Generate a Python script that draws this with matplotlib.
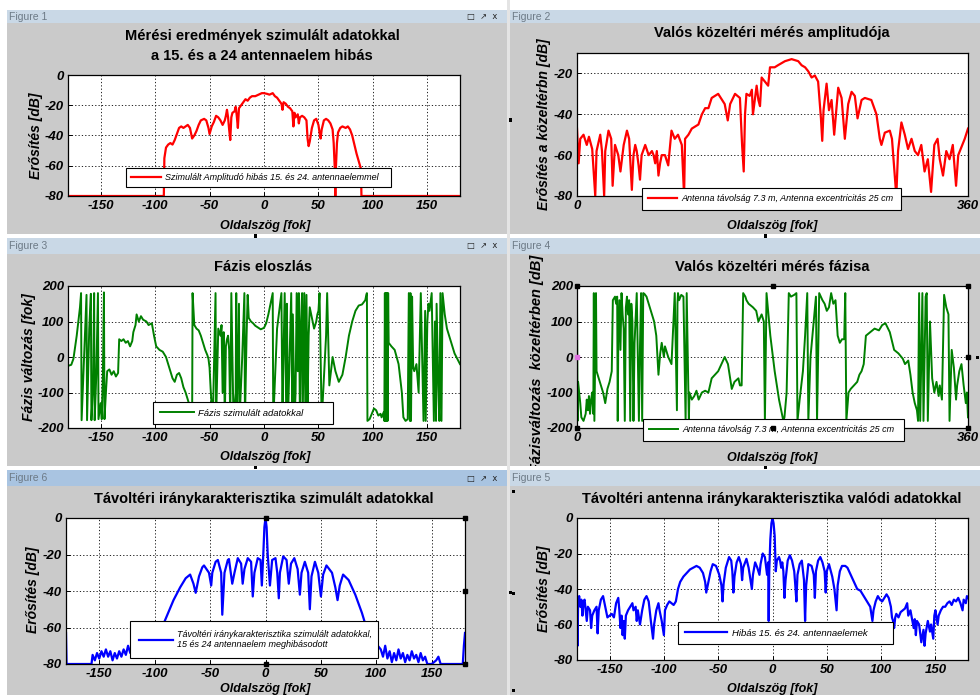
import matplotlib
matplotlib.use('Agg')
import matplotlib.pyplot as plt
from matplotlib.patches import Rectangle
from matplotlib.transforms import Bbox, TransformedBbox

plt.rcParams['axes.unicode_minus'] = False

# ---------------- DATA (angle [deg], value) ----------------
f1_pts = [(-180,-80),(-92,-80),(-91.5,-55),(-90,-48),(-88,-46),(-86,-45),(-84,-46),(-82,-43),(-80,-39),(-78,-35),(-76,-34),(-74,-35),(-72,-34),(-70,-33),(-68,-35),(-66,-42),(-64,-40),(-62,-37),(-60,-33),(-58,-30),(-55,-29),(-53,-30),(-51,-35),(-50,-39),(-48,-34),(-46,-31),(-44,-27),(-42,-28),(-40,-30),(-38,-33),(-36,-30),(-35,-27),(-34,-23),(-33,-28),(-32,-36),(-31,-43),(-30,-28),(-29,-25),(-27,-24),(-26,-21),(-25,-27),(-24,-35),(-23,-22),(-21,-20),(-19,-18),(-17,-16),(-15,-17),(-13,-15),(-11,-14),(-8,-14),(-5,-13),(-2,-12),(0,-12),(3,-12.5),(5,-13),(8,-12),(10,-14),(12,-15),(14,-17),(16,-19),(17,-23),(18,-18),(20,-19),(22,-21),(24,-22),(26,-24),(27,-34),(28,-25),(29,-28),(31,-26),(32,-32),(33,-28),(35,-27),(37,-28),(39,-30),(40,-42),(41,-47),(42,-44),(44,-35),(46,-30),(48,-29),(50,-33),(51,-38),(52,-42),(53,-36),(55,-30),(57,-29),(59,-30),(61,-32),(63,-36),(64,-45),(65,-62),(65.5,-80),(66,-62),(67,-45),(68,-38),(70,-35),(72,-34),(75,-35),(77,-34),(79,-36),(81,-40),(83,-46),(85,-52),(87,-57),(89,-62),(89.5,-80),(180,-80)]

f2_pts = [(0,-47),(1.5,-64),(3,-52),(6,-50),(9,-55),(11,-51),(14,-57),(16.2,-75),(16.8,-80),(18,-58),(21.4,-50),(23,-58),(25,-80),(26,-58),(29,-48),(31.5,-52),(32.8,-75),(35,-55),(38,-60),(40,-68),(43,-55),(46,-48),(48,-52),(50.5,-77),(52,-60),(53.6,-55),(55,-58),(56.7,-65),(58,-72),(59.5,-60),(62.8,-55),(66,-60),(69,-58),(70.5,-60),(72,-64),(73.5,-58),(75,-70),(76.5,-64),(78,-60),(81,-60),(84,-65),(87,-48),(90,-52),(93,-50),(96.5,-55),(98.6,-80),(99.5,-52),(102.6,-50),(105.7,-47),(111.8,-45),(115,-40),(118,-37),(121,-37),(124,-32),(130,-30),(136,-35),(138.8,-43),(141,-35),(145.5,-30),(150,-32),(152,-55),(153.5,-68),(154.7,-40),(156,-30),(159,-31),(161,-28),(162,-40),(165.4,-26),(167,-33),(168.5,-36),(170,-22),(173,-24),(176,-26),(177.7,-17),(182,-17),(185,-16),(191.5,-14),(197.6,-13),(203.7,-14),(206.8,-16),(210,-17),(213,-19),(216,-22),(219,-21),(222,-24),(224.6,-42),(225.8,-53),(227,-38),(229.8,-25),(232,-38),(234.4,-33),(236.8,-50),(240.5,-27),(243.6,-32),(246.6,-52),(249.7,-35),(252.8,-29),(255.8,-31),(258.3,-42),(262,-33),(265,-32),(271,-33),(275.7,-40),(278.8,-52),(280.3,-55),(283.4,-49),(288,-48),(290,-52),(292.6,-70),(294,-80),(295.6,-58),(298.7,-44),(301.8,-50),(304.8,-57),(308,-52),(311,-58),(314,-60),(317,-55),(320,-68),(323,-62),(326,-78),(329,-55),(332,-52),(334,-62),(337,-70),(340,-58),(343,-62),(346,-55),(349,-75),(351,-60),(354,-56),(357,-52),(360,-47)]

f3_pts = [(-180,-25),(-177,-22),(-175,-5),(-172,60),(-169,140),(-168,180),(-167.5,-178),(-166,-60),(-164.5,60),(-163,175),(-162.5,-178),(-160.5,80),(-159,178),(-158.5,-178),(-157,-80),(-156,180),(-155.5,-178),(-154,-50),(-152.5,180),(-152,-175),(-150,-130),(-149,-175),(-148,-60),(-147,182),(-146.5,-175),(-145,-90),(-144,-40),(-142,-35),(-140,-50),(-138,-40),(-136,-55),(-134,-45),(-133,50),(-131,45),(-129,50),(-127,40),(-125,45),(-123,30),(-121,45),(-120,70),(-118,90),(-117,120),(-116,110),(-115,100),(-113,115),(-111,105),(-108,100),(-106,90),(-103,95),(-101,60),(-99,30),(-96,20),(-93,15),(-90,0),(-88,-20),(-86,-40),(-84,-60),(-82,-70),(-80,-50),(-78,-45),(-76,-60),(-74,-85),(-72,-100),(-70,-120),(-68,-140),(-66.5,-160),(-66,-180),(-65.6,180),(-64,90),(-62,80),(-60,75),(-58,60),(-56,40),(-54,20),(-52,5),(-51,-5),(-50,-30),(-49,-90),(-48,-140),(-47,-180),(-44.5,180),(-44,-180),(-42,80),(-40,60),(-39,90),(-38,-100),(-37,70),(-36,-180),(-35,30),(-34,50),(-33,60),(-32,20),(-31,-180),(-30,180),(-28,-180),(-26,-100),(-25.5,180),(-25,-180),(-23,150),(-22.5,-180),(-20,0),(-18,180),(-17.5,-180),(-17,-100),(-16,60),(-15,175),(-14,110),(-12,100),(-10,95),(-8,88),(-5,82),(-3,78),(-1.5,80),(0,82),(2,95),(4,120),(6,150),(8,180),(8.5,-180),(12,80),(16,180),(17,-180),(17.5,-60),(19,180),(20.5,-180),(21,150),(22,-180),(24,60),(25,180),(26,-180),(26.5,120),(28,-180),(29,-100),(30,180),(31,-40),(32,180),(33,-180),(34,100),(35,180),(35.5,-180),(36,-60),(37,180),(38,-160),(39,175),(40,-150),(41,60),(42,140),(44,110),(46,80),(48,100),(49,120),(50,130),(51,180),(53,-180),(55,-60),(57,60),(58,180),(60,-80),(63,0),(65.6,-40),(68.7,-70),(72,-50),(75,0),(78,60),(81,100),(84,130),(87,145),(90,148),(93,160),(94,175),(94.5,180),(95,-180),(97,-175),(99,-160),(101,-145),(103,-150),(105,-165),(107,-160),(108,-170),(110,-155),(110.5,-180),(111,180),(111.5,-180),(112,180),(112.5,-180),(113,180),(113.5,-180),(114,180),(114.5,40),(117,30),(120,20),(123.6,-20),(126.6,-100),(128,-170),(130,-180),(132,-175),(133,180),(134,-180),(134.5,180),(135,-180),(136,170),(137,-30),(138,-40),(140,-20),(142,-100),(144,180),(146.5,-180),(148,130),(148.5,-180),(150,100),(151,150),(152,130),(154,180),(156,-180),(157,100),(158,-180),(158.5,150),(160,-80),(161,-180),(162,180),(163,-180),(164,180),(166,120),(168,80),(171,50),(175,10),(180,-20)]

f4_pts = [(0,180),(0.5,-180),(1,-70),(2,-100),(3,-130),(4,-170),(6,-180),(8,-160),(9,-120),(10,-150),(11,-110),(12,-160),(13,-120),(14,-100),(15,-160),(15.5,180),(16,-180),(17.5,180),(18,-40),(20,-60),(22,-80),(24,-100),(26,-130),(28,-90),(30,-70),(32,-40),(33,160),(35,170),(36,150),(37,170),(37.5,-180),(38,40),(39,160),(40,20),(41,180),(42,120),(43,80),(44,-180),(45,140),(46,170),(47,120),(48,160),(49,-180),(50,150),(51,100),(52,-180),(53,40),(55,180),(57,-180),(58,30),(59,180),(60,-180),(61,180),(62,178),(64,170),(66,150),(69,120),(71,100),(73,60),(75,-50),(76.6,10),(78,40),(80,0),(81,30),(84,0),(87,-20),(90,180),(92,-150),(92.5,150),(93,180),(94,160),(96,175),(98,170),(100,-180),(101,180),(103,-180),(103.5,-100),(105.7,-120),(108,-110),(110,-95),(112,-120),(115,-100),(118,-95),(121,-100),(124,-60),(127,-50),(130,-40),(133,-20),(136,0),(139,-20),(142.5,-90),(145,-70),(148.6,-60),(150,-80),(151.6,-80),(153,180),(155,170),(156,160),(158,150),(162,140),(165,130),(167,100),(170,120),(172,100),(173,-180),(174.5,180),(178,60),(182,-40),(186,-120),(190,-180),(191,-170),(193,-100),(195,180),(197,170),(200,175),(202,180),(203,-180),(205,-120),(208,-40),(210,60),(212,180),(213,-180),(215,0),(218,100),(220,170),(221,-180),(223,180),(226,160),(228,150),(230,130),(232,140),(234,180),(236,150),(238,160),(240,60),(242,40),(244,50),(246,50),(247,180),(248,-180),(250,-100),(252,-90),(255,-80),(258,-70),(260,-50),(262,-40),(264,-20),(266,60),(270,70),(274,80),(278,75),(281,90),(284,95),(288,70),(292,20),(296,10),(300,-5),(302,-20),(305,-10),(307,-50),(309,-100),(311,-130),(313,-150),(314,-180),(315,180),(316,-180),(318,180),(319,-180),(321,170),(322,180),(323,-180),(325,100),(327,-60),(329,-100),(331,-70),(333,-110),(334,-80),(336,-120),(338,175),(340,140),(342,120),(343,-180),(345,20),(347,-30),(349,-120),(350,-80),(352,-40),(354,-20),(356,-80),(358,-130),(359,-100),(360,-170)]

f5_pts = [(-180,-63),(-179.5,-80),(-179,-80),(-157,-80),(-156,-75),(-154,-78),(-152,-74),(-150,-77),(-148,-73),(-146,-76),(-144,-72),(-142,-76),(-140,-73),(-138,-78),(-136,-74),(-134,-77),(-132,-73),(-130,-76),(-128,-72),(-126,-75),(-124,-70),(-122,-74),(-120,-71),(-118,-73),(-110,-70),(-100,-65),(-92,-58),(-83,-45),(-77,-38),(-72,-33),(-68,-31),(-65,-36),(-63,-41),(-60,-32),(-57,-27),(-55.5,-26),(-51,-30),(-49,-37),(-48,-30),(-45,-24),(-43,-23),(-40,-30),(-39,-53),(-37,-30),(-34,-23),(-33,-22.5),(-30,-36),(-28,-30),(-25,-22),(-22,-25),(-20.6,-36),(-19,-28),(-16,-22),(-13,-24),(-11.5,-43),(-10,-30),(-7,-22),(-4.5,-23),(-3.3,-37),(-2,-20),(-1,-5),(0,0),(1,-5),(2,-20),(4,-37),(6,-23),(9,-22),(10.6,-30),(12,-44),(13,-30),(16,-21),(19,-23),(21,-36),(23,-25),(26,-22),(29,-28),(31,-42),(32.5,-30),(35.5,-24),(38.5,-30),(40,-50),(41.5,-32),(44.6,-24),(47.6,-30),(50,-43),(52,-31),(55,-26),(60,-30),(63,-38),(65,-45),(67,-37),(70,-31),(75,-34),(81,-42),(87,-52),(91,-60),(96,-66),(104,-72),(106,-76),(108,-70),(110,-77),(112,-73),(114,-79),(116,-74),(118,-78),(120,-72),(122,-77),(124,-74),(126,-79),(128,-75),(130,-78),(132,-73),(134,-77),(136,-75),(138,-79),(140,-74),(142,-78),(144,-76),(146,-80),(150,-80),(154,-78),(156,-76),(158,-80),(160,-80),(165,-80),(178,-80),(179,-70),(180,-63)]

f6_pts = [(-180,-45),(-179.5,-72),(-179,-48),(-178,-44),(-177,-50),(-176,-46),(-175,-55),(-174,-47),(-173,-46),(-171,-58),(-170,-50),(-168,-52),(-167,-62),(-166,-55),(-164,-52),(-162,-50),(-161,-65),(-160,-52),(-158,-46),(-156,-44),(-154,-50),(-152,-56),(-150,-55),(-148,-54),(-146,-56),(-144,-48),(-142,-45),(-141,-52),(-140,-62),(-139,-55),(-138,-66),(-137,-58),(-136,-68),(-135,-55),(-133,-52),(-131,-50),(-129,-48),(-128,-52),(-126,-50),(-125,-58),(-124,-52),(-122,-60),(-120,-52),(-118,-46),(-116,-44),(-114,-47),(-112,-58),(-110,-68),(-109,-60),(-107,-52),(-105,-48),(-104,-52),(-102,-58),(-100,-66),(-99,-52),(-97,-49),(-95,-47),(-93,-48),(-91,-49),(-89,-47),(-87,-40),(-85,-36),(-82,-33),(-79,-31),(-76,-29),(-73,-28),(-70,-27),(-67,-28),(-64,-31),(-62,-36),(-61,-42),(-59,-36),(-57,-30),(-55,-26),(-52,-27),(-49,-32),(-47,-38),(-46,-47),(-45,-37),(-43,-28),(-40,-22),(-38,-24),(-37,-30),(-36,-42),(-35,-33),(-33,-25),(-31,-22),(-29,-26),(-28,-35),(-27,-28),(-24,-23),(-22,-28),(-20,-36),(-19,-40),(-18,-32),(-16,-25),(-14,-28),(-12,-32),(-11,-26),(-9,-20),(-7,-22),(-5,-32),(-4,-25),(-3.5,-58),(-3,-30),(-2,-12),(-1,-3),(0,0),(1,-3),(2,-10),(2.5,-20),(3,-30),(4,-24),(6,-22),(7,-24),(8,-28),(9,-25),(10,-30),(11,-45),(12,-35),(14,-24),(16,-21),(18,-24),(20,-30),(21,-38),(22,-47),(23,-32),(25,-26),(27,-24),(29,-35),(30,-58),(31,-38),(33,-26),(36,-27),(38,-32),(39,-45),(40,-30),(42,-24),(44,-22),(46,-25),(48,-30),(49,-42),(50,-30),(52,-26),(55,-33),(57,-40),(59,-52),(60,-38),(62,-30),(64,-27),(67,-27),(69,-28),(72,-32),(75,-36),(78,-40),(81,-41),(84,-44),(88,-48),(90,-50),(92,-58),(93,-52),(95,-47),(97,-44),(99,-46),(101,-47),(103,-45),(105,-43),(107,-45),(109,-50),(110,-56),(111,-58),(112,-62),(113,-56),(114,-54),(116,-56),(118,-53),(120,-52),(122,-51),(124,-48),(125,-55),(127,-52),(130,-62),(131,-57),(132,-66),(133,-58),(135,-60),(137,-70),(139,-63),(140,-72),(141,-65),(143,-58),(145,-64),(146,-60),(148,-68),(149,-55),(150,-52),(152,-60),(153,-55),(155,-52),(157,-50),(159,-50),(161,-48),(163,-47),(165,-49),(167,-46),(169,-47),(171,-45),(173,-48),(175,-52),(176,-46),(178,-48),(179,-44),(180,-45)]

deg_ticks = [-150, -100, -50, 0, 50, 100, 150]
db_ticks = [-80, -60, -40, -20, 0]
db_ticks2 = [-80, -60, -40, -20]
ph_ticks = [-200, -100, 0, 100, 200]
full_ticks = [0, 360]


def xs(pts):
    return [p[0] for p in pts]


def ys(pts):
    return [p[1] for p in pts]


# ---------------- FIGURE ----------------
W, H = 980, 695
fig = plt.figure(figsize=(9.8, 6.95), dpi=100)
fig.patch.set_facecolor('white')
FONT = ['Liberation Sans', 'DejaVu Sans']
GRAY = '#cacaca'
BAR = '#c9d8e6'
BAR_DARK = '#a9c4e1'


def rect(x0, y0, x1, y1, color, z=0):
    r = Rectangle((x0 / W, 1 - y1 / H), (x1 - x0) / W, (y1 - y0) / H,
                  transform=fig.transFigure, facecolor=color, edgecolor='none', zorder=z)
    fig.add_artist(r)


def ftext(x, y, s, **kw):
    kw.setdefault('family', FONT)
    return fig.text(x / W, 1 - y / H, s, **kw)


rect(7, 10, 507, 234, GRAY)
rect(510, 10, 980, 234, GRAY)
rect(7, 238, 507, 466, GRAY)
rect(510, 238, 980, 466, GRAY)
rect(7, 470, 507, 695, GRAY)
rect(510, 470, 980, 695, GRAY)
rect(507, 0, 510, 695, '#e4e4e4')

bars = [(7, 10, 507, 23, BAR, 'Figure 1', True), (510, 10, 980, 23, BAR, 'Figure 2', False),
        (7, 238, 507, 254, BAR, 'Figure 3', True), (510, 238, 980, 254, BAR, 'Figure 4', False),
        (7, 470, 507, 486, BAR_DARK, 'Figure 6', True), (510, 470, 980, 486, BAR, 'Figure 5', False)]
for x0, y0, x1, y1, c, lab, btn in bars:
    rect(x0, y0, x1, y1, c, z=10)
    ftext(x0 + 2, (y0 + y1) / 2, lab, fontsize=7.5, color='#6d7a86', va='center', ha='left', zorder=11)
    if btn:
        ftext(x1 - 10, (y0 + y1) / 2, '\u25a1  \u2197  x', fontsize=6, color='#222222',
              va='center', ha='right', zorder=11, family=['DejaVu Sans'])


def make_axes(l, r, t, b):
    ax = fig.add_axes([l / W, 1 - b / H, (r - l) / W, (b - t) / H])
    ax.set_facecolor('white')
    for s in ax.spines.values():
        s.set_linewidth(0.9)
        s.set_color('black')
    ax.tick_params(direction='in', length=3, width=0.7, pad=3, top=False, right=False)
    return ax


def style_ticks(ax, size=9.5):
    for lab in ax.get_xticklabels() + ax.get_yticklabels():
        lab.set_fontweight('bold')
        lab.set_fontstyle('italic')
        lab.set_fontsize(size)
        lab.set_family(FONT)


def grid(ax, xgrid=True):
    ax.yaxis.grid(True, color='black', linestyle=(0, (1.5, 2.5)), linewidth=0.6)
    if xgrid:
        ax.xaxis.grid(True, color='black', linestyle=(0, (1.5, 2.5)), linewidth=0.6)
    ax.set_axisbelow(True)


def legend(ax, x0, y0, x1, fs=6.5, borderpad=0.7, handlelength=3.2):
    leg = ax.legend(loc='upper left', bbox_to_anchor=(x0 / W, 1 - y0 / H - 0.05, (x1 - x0) / W, 0.05),
                    bbox_transform=fig.transFigure, borderaxespad=0, fancybox=False, mode='expand',
                    framealpha=1, edgecolor='black', borderpad=borderpad, handlelength=handlelength,
                    handletextpad=0.5,
                    prop={'family': FONT, 'style': 'italic', 'size': fs})
    leg.get_frame().set_linewidth(0.8)
    leg.set_zorder(20)
    return leg


def ylab(x, y, s, fs=10, **kw):
    return ftext(x, y, s, rotation=90, fontsize=fs, fontweight='bold', fontstyle='italic',
                 ha='center', va='center', **kw)


def xlab(x, y, s, fs=9):
    return ftext(x, y, s, fontsize=fs, fontweight='bold', fontstyle='italic', ha='center', va='center')


def title(x, y, s, fs=10.5):
    return ftext(x, y, s, fontsize=fs, fontweight='bold', ha='center', va='center', linespacing=1.5)


RED = '#ff0000'
GREEN = '#008000'
BLUE = '#0000ff'

# ---- Figure 1 ----
ax1 = make_axes(68, 460, 75, 196)
ax1.plot(xs(f1_pts), ys(f1_pts), color=RED, lw=1.6, label='Szimulált Amplitudó hibás 15. és 24. antennaelemmel')
ax1.set_xlim(-180, 180); ax1.set_ylim(-80, 0)
ax1.set_xticks(deg_ticks); ax1.set_yticks(db_ticks)
grid(ax1); style_ticks(ax1)
legend(ax1, 126, 168, 391, borderpad=0.55, handlelength=3.3)
title(262, 46, 'Mérési eredmények szimulált adatokkal\na 15. és a 24 antennaelem hibás')
xlab(265, 226, 'Oldalszög [fok]')
ylab(36, 136, 'Erősítés [dB]')

# ---- Figure 2 ----
ax2 = make_axes(577, 968, 53, 196)
ax2.plot(xs(f2_pts), ys(f2_pts), color=RED, lw=1.6, label='Antenna távolság 7.3 m, Antenna excentricitás 25 cm')
ax2.set_xlim(0, 360); ax2.set_ylim(-80, -10)
ax2.set_xticks(full_ticks); ax2.set_yticks(db_ticks2)
grid(ax2, xgrid=False); style_ticks(ax2)
legend(ax2, 642, 188, 901)
title(772, 33, 'Valós közeltéri mérés amplitudója')
xlab(772, 226, 'Oldalszög [fok]')
ylab(544, 124, 'Erősítés a közeltérbn [dB]')

# ---- Figure 3 ----
ax3 = make_axes(68, 460, 286, 428)
ax3.plot(xs(f3_pts), ys(f3_pts), color=GREEN, lw=1.4, label='Fázis szimulált adatokkal')
ax3.set_xlim(-180, 180); ax3.set_ylim(-200, 200)
ax3.set_xticks(deg_ticks); ax3.set_yticks(ph_ticks)
grid(ax3); style_ticks(ax3)
legend(ax3, 153, 402, 333, fs=6.8, handlelength=3.6)
title(263, 267, 'Fázis eloszlás')
xlab(265, 457, 'Oldalszög [fok]')
ylab(29, 357, 'Fázis változás [fok]')

# ---- Figure 4 ----
ax4 = make_axes(577, 968, 286, 428)
ax4.plot(xs(f4_pts), ys(f4_pts), color=GREEN, lw=1.4, label='Antenna távolság 7.3 m, Antenna excentricitás 25 cm')
ax4.set_xlim(0, 360); ax4.set_ylim(-200, 200)
ax4.set_xticks(full_ticks); ax4.set_yticks(ph_ticks)
grid(ax4, xgrid=False); style_ticks(ax4)
legend(ax4, 643, 419, 904)
title(772, 267, 'Valós közeltéri mérés fázisa')
xlab(772, 458, 'Oldalszög [fok]')
t4 = ftext(537, 472, 'Fázisváltozás  közeltérben [dB]', rotation=90, fontsize=10.5,
           fontweight='bold', fontstyle='italic', ha='center', va='bottom')
t4.set_clip_box(TransformedBbox(Bbox.from_extents(510 / W, 1 - 466 / H, 570 / W, 1 - 254 / H),
                                fig.transFigure))
t4.set_clip_on(True)
for px, py in [(0, 1), (0.5, 1), (1, 1), (1, 0.5), (1, 0), (0.5, 0), (0, 0)]:
    ax4.plot([px], [py], marker='s', ms=3.5, color='black', transform=ax4.transAxes, clip_on=False, zorder=30)
ax4.plot([0], [0.5], marker='s', ms=3.5, color='#e070e0', transform=ax4.transAxes, clip_on=False, zorder=30)

# ---- Figure 6 (bottom-left) ----
ax5 = make_axes(66, 465, 518, 664)
ax5.plot(xs(f5_pts), ys(f5_pts), color=BLUE, lw=1.6,
         label='Távoltéri iránykarakterisztika szimulált adatokkal,\n15 és 24 antennaelem meghibásodott')
ax5.set_xlim(-180, 180); ax5.set_ylim(-80, 0)
ax5.set_xticks(deg_ticks); ax5.set_yticks(db_ticks)
grid(ax5); style_ticks(ax5)
legend(ax5, 130, 621, 378, borderpad=0.95, handlelength=3.8)
title(264, 499, 'Távoltéri iránykarakterisztika szimulált adatokkal')
xlab(265, 689, 'Oldalszög [fok]')
ylab(33, 590, 'Erősítés [dB]')
for px, py in [(0.5, 1), (1, 1), (1, 0.5), (1, 0), (0.5, 0)]:
    ax5.plot([px], [py], marker='s', ms=3.5, color='black', transform=ax5.transAxes, clip_on=False, zorder=30)

# ---- Figure 5 (bottom-right) ----
ax6 = make_axes(577, 968, 518, 660)
ax6.plot(xs(f6_pts), ys(f6_pts), color=BLUE, lw=1.6, label='Hibás 15. és 24. antennaelemek')
ax6.set_xlim(-180, 180); ax6.set_ylim(-80, 0)
ax6.set_xticks(deg_ticks); ax6.set_yticks(db_ticks)
grid(ax6); style_ticks(ax6)
legend(ax6, 678, 622, 893, fs=6.8, handlelength=4.5)
title(772, 499, 'Távoltéri antenna iránykarakterisztika valódi adatokkal')
xlab(772, 689, 'Oldalszög [fok]')
ylab(544, 589, 'Erősítés [dB]')

for x, y in [(510, 120), (255, 236), (765, 236), (513, 491), (513, 593), (513, 690), (765, 467), (255, 467), (977, 357), (510, 592)]:
    rect(x - 1.5, y - 1.5, x + 1.5, y + 1.5, 'black', z=12)

fig.savefig('out.png', dpi=100, facecolor='white')
